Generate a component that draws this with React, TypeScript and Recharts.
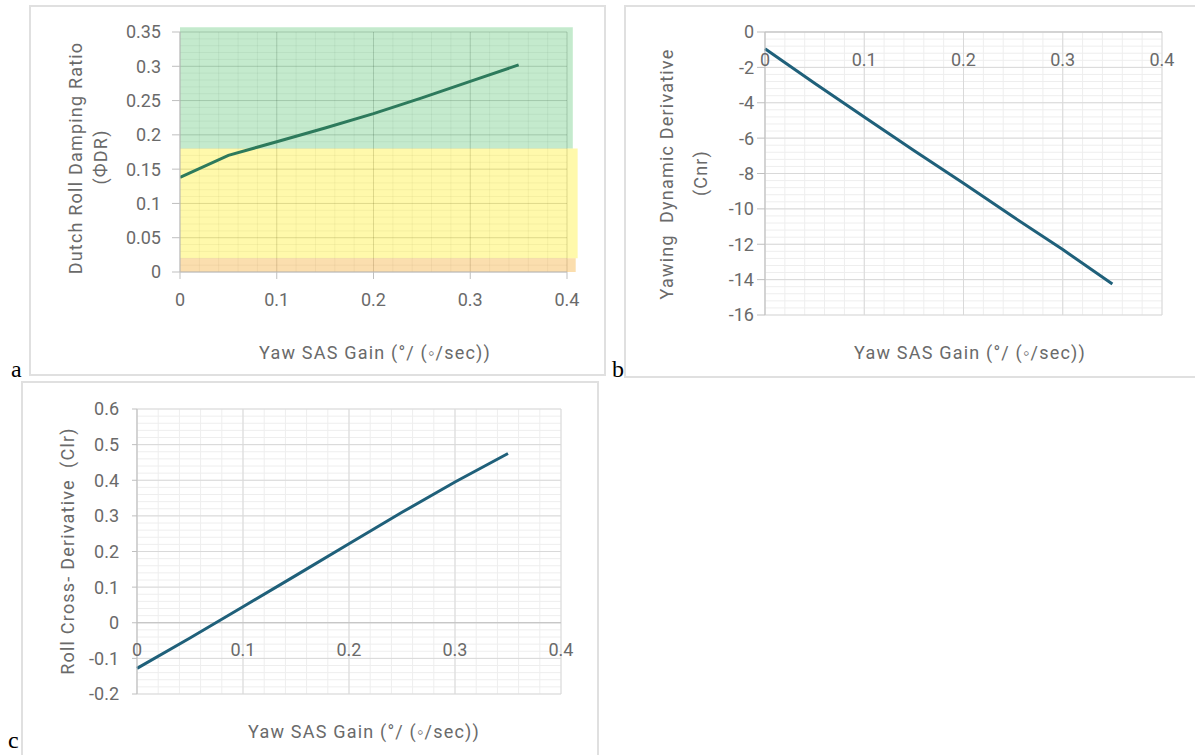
import React from 'react';
import { LineChart, Line, XAxis, YAxis, CartesianGrid, ReferenceArea, ReferenceLine } from 'recharts';

// ---------- data ----------
const gainValues = [0, 0.05, 0.1, 0.15, 0.2, 0.25, 0.3, 0.35];
const dampingRatio = [0.138, 0.17, 0.19, 0.21, 0.231, 0.254, 0.278, 0.302];
const yawingDerivative = [-0.95, -2.9, -4.8, -6.7, -8.55, -10.45, -12.3, -14.25];
const rollCrossDerivative = [-0.128, -0.043, 0.045, 0.133, 0.222, 0.31, 0.395, 0.475];

const xTicks = [0, 0.1, 0.2, 0.3, 0.4];
const aYTicks = [0, 0.05, 0.1, 0.15, 0.2, 0.25, 0.3, 0.35];
const bYTicks = [-16, -14, -12, -10, -8, -6, -4, -2, 0];
const cYTicks = [-0.2, -0.1, 0, 0.1, 0.2, 0.3, 0.4, 0.5, 0.6];

// quality zones of panel a: [y1, y2, x2]
const greenZone = [0.18, 0.357, 0.406];
const yellowZone = [0.02, 0.18, 0.411];
const orangeZone = [0, 0.02, 0.409];

const xTitle = 'Yaw SAS Gain (°/ (◦/sec))';
const aYTitle = ['Dutch Roll Damping Ratio', '(ФDR)'];
const bYTitle = ['Yawing  Dynamic Derivative', '(Cnr)'];
const cYTitle = 'Roll Cross- Derivative  (Clr)';

// ---------- helpers ----------
const steps = (from: number, to: number, step: number) => {
  const out: number[] = [];
  const n = Math.round((to - from) / step);
  for (let i = 0; i <= n; i++) out.push(+(from + i * step).toFixed(4));
  return out;
};

const FONT = "Roboto, 'Liberation Sans', 'DejaVu Sans', sans-serif";
const TEXT = '#6a6a6a';
const AXIS = '#BFBFBF';
const tickStyle = { fill: TEXT, fontSize: 18, fontFamily: FONT };

const dataA = gainValues.map((x, i) => ({ x, y: dampingRatio[i] }));
const dataB = gainValues.map((x, i) => ({ x, y: yawingDerivative[i] }));
const dataC = gainValues.map((x, i) => ({ x, y: rollCrossDerivative[i] }));

const minorX = steps(0, 0.4, 0.02);
const aMinorY = steps(0, 0.35, 0.01);
const bMinorY = steps(-16, 0, 0.4);
const cMinorY = steps(-0.2, 0.6, 0.02);

// tick placed below the y=0 line (lift = distance from plot bottom to y=0)
const ZeroTick = (props: any) => {
  const { x, y, payload, lift } = props;
  return (
    <text x={x} y={y - lift + 27} textAnchor="middle" dominantBaseline="central"
      fill={TEXT} fontSize={18} fontFamily={FONT}>
      {payload.value}
    </text>
  );
};

const panelBox = (left: number, top: number, width: number, height: number): React.CSSProperties => ({
  position: 'absolute', left, top, width, height, boxSizing: 'border-box',
  border: '2px solid #E0E0E0', background: '#fff',
});

export default function App() {
  const B_PLOT_H = 283;
  const C_PLOT_H = 285;
  return (
    <div style={{ position: 'absolute', left: 0, top: 0, width: 1195, height: 755, overflow: 'hidden', background: '#fff' }}>
      {/* Panel a */}
      <div style={panelBox(29, 5, 577, 371)}>
        <LineChart width={573} height={367} data={dataA} margin={{ top: 25, right: 37, bottom: 62, left: 89 }}>
          <ReferenceArea x1={0} x2={greenZone[2]} y1={greenZone[0]} y2={greenZone[1]} fill="#3CB95A" fillOpacity={0.3} stroke="none" ifOverflow="visible" />
          <ReferenceArea x1={0} x2={yellowZone[2]} y1={yellowZone[0]} y2={yellowZone[1]} fill="#FFEE00" fillOpacity={0.33} stroke="none" ifOverflow="visible" />
          <ReferenceArea x1={0} x2={orangeZone[2]} y1={orangeZone[0]} y2={orangeZone[1]} fill="#F4A82A" fillOpacity={0.38} stroke="none" ifOverflow="visible" />
          <CartesianGrid horizontalValues={aMinorY} verticalValues={minorX} stroke="rgba(0,0,0,0.06)" />
          <CartesianGrid horizontalValues={aYTicks} verticalValues={xTicks} stroke="rgba(0,0,0,0.14)" />
          <XAxis type="number" dataKey="x" domain={[0, 0.4]} ticks={xTicks} interval={0} height={40}
            tickSize={7} tickMargin={14} stroke={AXIS} tick={tickStyle} allowDataOverflow />
          <YAxis type="number" domain={[0, 0.35]} ticks={aYTicks} interval={0} width={60}
            tickSize={8} tickMargin={11} stroke={AXIS} tick={tickStyle} allowDataOverflow />
          <Line type="linear" dataKey="y" stroke="#2D7A5C" strokeWidth={3} dot={false} isAnimationActive={false} />
        </LineChart>
      </div>

      {/* Panel b */}
      <div style={panelBox(624, 5, 574, 373)}>
        <LineChart width={570} height={369} data={dataB} margin={{ top: 25, right: 34, bottom: 31, left: 79 }}>
          <CartesianGrid horizontalValues={bMinorY} verticalValues={minorX} stroke="#EEEEEE" />
          <CartesianGrid horizontalValues={bYTicks} verticalValues={xTicks} stroke="#D9D9D9" />
          <XAxis type="number" dataKey="x" domain={[0, 0.4]} ticks={xTicks} interval={0} height={30}
            axisLine={false} tickLine={false} tickSize={0} tickMargin={0}
            tick={(p: any) => <ZeroTick {...p} lift={B_PLOT_H} />} />
          <YAxis type="number" domain={[-16, 0]} ticks={bYTicks} interval={0} width={60}
            tickSize={8} tickMargin={3} stroke={AXIS} tick={tickStyle} />
          <ReferenceLine y={0} stroke={AXIS} strokeWidth={1} />
          <Line type="linear" dataKey="y" stroke="#1F607A" strokeWidth={3} dot={false} isAnimationActive={false} />
        </LineChart>
      </div>

      {/* Panel c */}
      <div style={panelBox(21, 381, 578, 380)}>
        <LineChart width={574} height={372} data={dataC} margin={{ top: 26, right: 36, bottom: 31, left: 54 }}>
          <CartesianGrid horizontalValues={cMinorY} verticalValues={minorX} stroke="#EEEEEE" />
          <CartesianGrid horizontalValues={cYTicks} verticalValues={xTicks} stroke="#D9D9D9" />
          <XAxis type="number" dataKey="x" domain={[0, 0.4]} ticks={xTicks} interval={0} height={30}
            axisLine={false} tickLine={false} tickSize={0} tickMargin={0}
            tick={(p: any) => <ZeroTick {...p} lift={C_PLOT_H * 0.2 / 0.8} />} />
          <YAxis type="number" domain={[-0.2, 0.6]} ticks={cYTicks} interval={0} width={60}
            tickSize={5} tickMargin={13} stroke={AXIS} tick={tickStyle} />
          <ReferenceLine y={0} stroke={AXIS} strokeWidth={1} />
          <Line type="linear" dataKey="y" stroke="#1F607A" strokeWidth={3} dot={false} isAnimationActive={false} />
        </LineChart>
      </div>

      {/* titles and panel letters */}
      <svg width={1195} height={755} style={{ position: 'absolute', left: 0, top: 0, pointerEvents: 'none' }}>
        <g fill={TEXT} fontFamily={FONT} fontSize={18} style={{ letterSpacing: '1.2px', whiteSpace: 'pre' }}>
          <text x={375} y={352} textAnchor="middle" dominantBaseline="central">{xTitle}</text>
          <text transform="translate(75,158) rotate(-90)" textAnchor="middle" dominantBaseline="central">{aYTitle[0]}</text>
          <text transform="translate(100,157) rotate(-90)" textAnchor="middle" dominantBaseline="central">{aYTitle[1]}</text>

          <text x={970} y={352} textAnchor="middle" dominantBaseline="central">{xTitle}</text>
          <text transform="translate(666,174) rotate(-90)" textAnchor="middle" dominantBaseline="central" xmlSpace="preserve">{bYTitle[0]}</text>
          <text transform="translate(700,173) rotate(-90)" textAnchor="middle" dominantBaseline="central">{bYTitle[1]}</text>

          <text x={364} y={731} textAnchor="middle" dominantBaseline="central">{xTitle}</text>
          <text transform="translate(67,551) rotate(-90)" textAnchor="middle" dominantBaseline="central" xmlSpace="preserve">{cYTitle}</text>
        </g>
        <g fill="#000" fontFamily="'Liberation Serif', 'Times New Roman', serif" fontSize={24}>
          <text x={11} y={377}>a</text>
          <text x={612} y={377}>b</text>
          <text x={8} y={748}>c</text>
        </g>
      </svg>
    </div>
  );
}
